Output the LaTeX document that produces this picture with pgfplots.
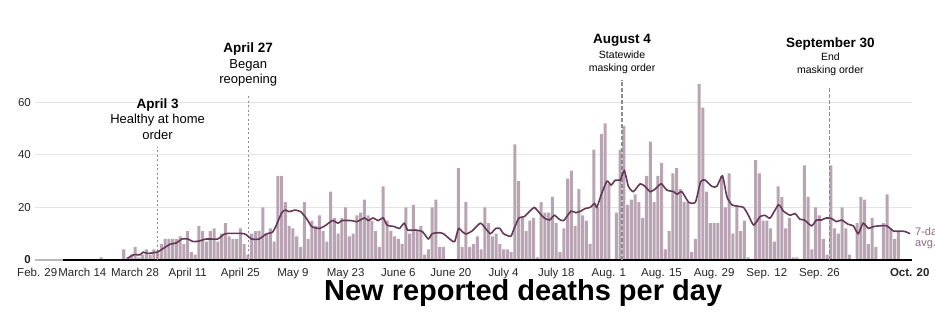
\documentclass[border=0pt]{standalone}
\usepackage{fontspec}
\setmainfont{Liberation Sans}
\usepackage{pgfplots}
\usepackage{pgfplotstable}
\pgfplotsset{compat=1.18}
\definecolor{barcol}{RGB}{184,164,178}
\definecolor{linecol}{RGB}{100,56,86}
\definecolor{labcol}{RGB}{140,105,130}
\definecolor{gridcol}{RGB}{228,228,228}
\definecolor{dashcol}{RGB}{140,140,140}

\pgfplotstableread{
d v
19 1
25 4
26 1
27 2
28 5
29 1
30 2
31 4
32 2
33 4
34 3
35 6
36 8
37 8
38 8
39 8
40 9
41 6
42 11
43 3
44 2
45 13
46 11
47 7
48 11
49 12
50 7
51 10
52 14
53 9
54 8
55 8
56 12
57 6
58 2
59 10
60 11
61 11
62 20
63 10
64 12
65 7
66 32
67 32
68 22
69 13
70 12
71 9
72 5
73 22
74 8
75 15
76 13
77 17
78 11
79 7
80 26
81 16
82 10
83 16
84 20
85 9
86 10
87 17
88 18
89 23
90 17
91 15
92 11
93 5
94 28
95 15
96 11
97 9
98 8
99 6
100 20
101 10
102 21
103 11
104 13
105 2
106 4
107 20
108 23
109 5
110 5
114 35
115 5
116 22
117 5
118 6
119 9
120 4
121 20
122 14
123 9
124 10
125 6
126 4
127 4
128 3
129 44
130 30
131 16
132 11
133 15
134 16
135 1
136 22
137 18
138 18
139 24
140 14
141 3
142 12
143 31
144 34
145 13
146 27
147 17
148 15
149 6
150 42
151 20
152 48
153 52
154 29
156 18
157 42
158 51
159 21
160 23
161 25
162 22
163 16
164 32
165 45
166 22
167 32
168 37
169 4
170 11
171 33
172 35
173 27
174 22
175 22
176 3
177 8
178 67
179 58
180 26
181 14
182 14
183 14
184 32
185 20
186 33
187 10
188 21
189 11
190 15
191 1
193 38
194 33
195 15
196 15
197 12
198 7
199 28
200 24
201 12
202 16
203 1
204 1
206 36
207 24
208 4
209 20
210 17
211 8
212 2
213 36
214 12
215 10
216 20
217 12
218 2
220 14
221 24
222 23
223 6
224 16
225 5
227 14
228 25
229 12
230 8
231 11
}\deaths

\pgfplotstableread{
d v
26 0.6
27.6 2
29.3 2
30.2 3
31.3 2.5
33.8 3
35.1 4
37.3 6
39 6.5
40.5 8
42 8
43.5 7
45 7.2
47 8
50 8
52 10
57 10
59 8
61 8
63 10
64.5 10.5
65.5 13
67 18
68 19
69 18.4
70.5 19
72 18.4
73.5 16
75 12.7
77 12
78.5 13
80.5 15
82 14
83 15
85.5 15
87 14.6
89 16
90 15
91.3 16
92.6 15
94 16
95 13.3
97 12.7
98.3 12
99.6 14
100.5 11.4
102.7 11.4
104.4 10.8
106 8
107 10
108.8 10.4
110 10
112 7.6
113 7
114 12
115 10.8
116 9.9
117.6 11
119.8 14
121.2 12
122.5 10
123.9 12
125 12
126 10
127.9 9
128.8 12
130.1 16
131.5 16.5
133.3 19
134.2 20
135.5 18
136.8 16
138.2 15.2
139.5 17
140.8 15.5
142 15
143.9 18.6
145.2 18
146.5 18.6
147.7 19.6
149 20
150.2 21.5
150.8 20
152 25
153.5 30
154.6 28.5
155.7 30.4
157 30.4
158.1 34
159.2 28
160.5 26
162.3 29
163.6 28
165 26
166.3 27
167.9 29
169.4 26.6
171.2 26
172.1 25
173.4 26
175.2 22
177 22
178.4 29.8
179.6 30.4
181.4 28
182.7 28
184.2 32
185.4 24
186.7 21
188 20.5
189.8 20
191.1 17
192.5 13.3
194.2 16.5
195.5 17
196.9 16
199.1 21
200.4 18.6
202.2 17
203.5 17.7
204.8 15.5
206 15.2
207.9 13
209.2 15.2
210.5 15.2
211.8 16
213.2 15.8
214.5 14.6
215.9 15.2
217.6 13.6
219 13
220.3 10
221.6 14
223 12
224.3 12.7
226.1 13
227.9 13
229.7 11
231.5 11
232.8 10.8
234.1 10
}\avg

\begin{document}
\begin{tikzpicture}
\useasboundingbox (-35pt,-54pt) rectangle (900pt,260pt);
\begin{axis}[
  at={(0pt,0pt)}, anchor=south west,
  scale only axis, width=877pt, height=157.7pt,
  xmin=1.4, xmax=234.6, ymin=0, ymax=60,
  clip=false,
  axis line style={draw=none},
  major tick length=0pt,
  ytick={0,20,40,60}, yticklabels={\textbf{0},20,40,60},
  xtick={2,14,28,42,56,70,84,98,112,126,140,154,168,182,196,210,234},
  xticklabels={Feb. 29,March 14,March 28,April 11,April 25,May 9,May 23,June 6,June 20,July 4,July 18,Aug. 1,Aug. 15,Aug. 29,Sep. 12,Sep. 26,\textbf{Oct. 20}},
  ymajorgrids, grid style={gridcol, line width=0.8pt},
  tick label style={font=\fontsize{11.5}{13}\selectfont, text=black!85},
  yticklabel style={anchor=east, inner sep=0pt, xshift=-4pt},
  xticklabel style={anchor=north, inner sep=0pt, yshift=-8pt},
]
\addplot[ybar, bar width=0.8, fill=barcol, draw=none] table[x=d,y=v]{\deaths};
\addplot[gray!55, line width=1.8pt] coordinates {(1.4,0) (8.9,0)};
\addplot[black, line width=1.1pt] coordinates {(8.9,0) (234.7,0)};
% event lines
\draw[dashcol, line width=1.1pt, dash pattern=on 2pt off 2.5pt] (axis cs:34,0) -- (axis cs:34,43);
\draw[dashcol, line width=1.1pt, dash pattern=on 2pt off 2.5pt] (axis cs:58.1,0) -- (axis cs:58.1,62.4);
\draw[dashcol, line width=1.6pt, dash pattern=on 4pt off 2pt] (axis cs:157.5,0) -- (axis cs:157.5,68.5);
\draw[dashcol, line width=1.6pt, dash pattern=on 4pt off 2pt] (axis cs:212.7,0) -- (axis cs:212.7,65.4);
\addplot[linecol, line width=1.6pt, smooth, tension=0.35] table[x=d,y=v]{\avg};
% annotations
\node[font=\fontsize{13.5}{15}\selectfont\bfseries] at (axis cs:34,59) {April 3};
\node[font=\fontsize{13}{15}\selectfont] at (axis cs:34,53.3) {Healthy at home};
\node[font=\fontsize{13}{15}\selectfont] at (axis cs:34,47.6) {order};
\node[font=\fontsize{13.5}{15}\selectfont\bfseries] at (axis cs:58.1,80.3) {April 27};
\node[font=\fontsize{13}{15}\selectfont] at (axis cs:58.1,74.2) {Began};
\node[font=\fontsize{13}{15}\selectfont] at (axis cs:58.1,68.3) {reopening};
\node[font=\fontsize{13.5}{15}\selectfont\bfseries] at (axis cs:157.5,83.7) {August 4};
\node[font=\fontsize{10.5}{12}\selectfont] at (axis cs:157.5,78) {Statewide};
\node[font=\fontsize{10.5}{12}\selectfont] at (axis cs:157.5,72.7) {masking order};
\node[font=\fontsize{13.5}{15}\selectfont\bfseries] at (axis cs:212.9,82.2) {September 30};
\node[font=\fontsize{10.5}{12}\selectfont] at (axis cs:212.9,77.2) {End};
\node[font=\fontsize{10.5}{12}\selectfont] at (axis cs:212.9,71.9) {masking order};
\node[anchor=west, text=labcol, font=\fontsize{11}{11}\selectfont, align=left, inner sep=0pt] at (axis cs:235.4,8.2) {7-day\\avg.};
\node[font=\fontsize{29}{32}\selectfont\bfseries] at (axis cs:131.2,-12.6) {New reported deaths per day};
\end{axis}
\end{tikzpicture}
\end{document}
